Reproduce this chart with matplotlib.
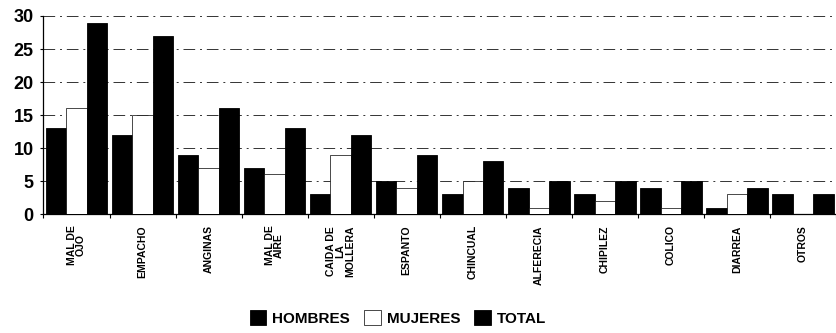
import matplotlib
matplotlib.use("Agg")
import matplotlib.pyplot as plt
import numpy as np

categories = ["MAL DE\nOJO", "EMPACHO", "ANGINAS", "MAL DE\nAIRE", "CAIDA DE\nLA\nMOLLERA",
              "ESPANTO", "CHINCUAL", "ALFERECIA", "CHIPILEZ", "COLICO", "DIARREA", "OTROS"]
hombres = [13, 12, 9, 7, 3, 5, 3, 4, 3, 4, 1, 3]
mujeres = [16, 15, 7, 6, 9, 4, 5, 1, 2, 1, 3, 0]
total = [29, 27, 16, 13, 12, 9, 8, 5, 5, 5, 4, 3]
yticks = [0, 5, 10, 15, 20, 25, 30]

plt.rcParams["font.family"] = ["Liberation Sans", "DejaVu Sans"]
plt.rcParams["font.weight"] = "bold"

fig = plt.figure(figsize=(8.36, 3.33), dpi=100)
ax = fig.add_axes([0.052, 0.357, 0.948, 0.595])

x = np.arange(len(categories))
w = 0.31
ax.bar(x - w, hombres, w, color="black", edgecolor="black", linewidth=0.6, label="HOMBRES", zorder=3)
ax.bar(x, mujeres, w, color="white", edgecolor="black", linewidth=0.5, label="MUJERES", zorder=3)
ax.bar(x + w, total, w, color="black", edgecolor="black", linewidth=0.6, label="TOTAL", zorder=3)

ax.set_xlim(-0.5, len(categories) - 0.5)
ax.set_ylim(0, 30)
ax.set_yticks(yticks)
ax.set_yticklabels([str(v) for v in yticks], fontsize=13, fontweight="bold")
ax.tick_params(axis="y", length=2, width=0.8, pad=5)

ax.set_xticks(np.arange(len(categories) + 1) - 0.5, minor=True)
ax.set_xticks(x)
ax.set_xticklabels(categories, rotation=90, fontsize=7.5, fontweight="bold",
                   va="top", ha="center", linespacing=0.9)
ax.tick_params(axis="x", which="major", length=0, pad=8)
ax.tick_params(axis="x", which="minor", length=3, width=0.8, direction="out")

for gy in yticks[1:]:
    ax.axhline(gy, color="#333333", linewidth=0.7, linestyle=(0, (12, 5, 2, 5)), zorder=1)

for side in ["top", "right"]:
    ax.spines[side].set_visible(False)
ax.spines["left"].set_linewidth(0.9)
ax.spines["bottom"].set_linewidth(0.9)

fig.legend(loc="center", bbox_to_anchor=(0.476, 0.045), ncol=3, frameon=False,
           handlelength=1.1, handleheight=1.1, handletextpad=0.4, columnspacing=0.9,
           prop={"size": 11, "weight": "bold"})

fig.savefig("out.png", dpi=100)
